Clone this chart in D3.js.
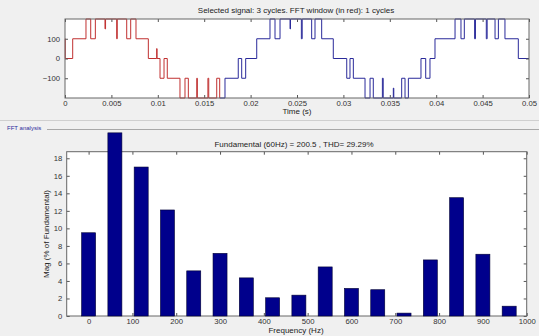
<!DOCTYPE html>
<html>
<head>
<meta charset="utf-8">
<script src="https://cdn.jsdelivr.net/npm/d3@7"></script>
<style>
  body { margin: 0; background: #f0f0f0; }
  svg { display: block; font-family: "Liberation Sans", Arial, sans-serif; }
  .tick text { font-size: 7.7px; fill: #333; }
  .tick line { stroke: #555; }
  .lbl { font-size: 8px; fill: #222; }
</style>
</head>
<body>
<svg id="chart" width="539" height="336"></svg>
<script>
// signal: step times (s) and levels (V), held until the next time
const sigTimes = [0, 0.00003, 0.00083, 0.00226, 0.00277, 0.00327, 0.00431, 0.00437, 0.00557, 0.00563,
  0.00665, 0.00708, 0.00765, 0.00898, 0.00988, 0.00992, 0.01024, 0.01067, 0.01102, 0.01239,
  0.01293, 0.01329, 0.01420, 0.01426, 0.01540, 0.01549, 0.01635, 0.01667, 0.01724, 0.01867,
  0.01904, 0.01947, 0.02066, 0.02209, 0.02263, 0.02317, 0.02425, 0.02430, 0.02547, 0.02556,
  0.02658, 0.02694, 0.02766, 0.02891, 0.03036, 0.03071, 0.03107, 0.03233, 0.03287, 0.03322,
  0.03420, 0.03429, 0.03538, 0.03543, 0.03628, 0.03664, 0.03700, 0.03836, 0.03887, 0.03933,
  0.03987, 0.04203, 0.04267, 0.04303, 0.04414, 0.04423, 0.04540, 0.04549, 0.04634, 0.04670,
  0.04741, 0.04885, 0.05];
const sigLevels = [100, 0, 100, 200, 100, 200, 150, 200, 100, 200,
  100, 200, 100, 0, 50, 0, -100, 0, -100, -200,
  -100, -200, -100, -200, -100, -200, -100, -200, -100, 0,
  -100, 0, 100, 200, 100, 200, 150, 200, 100, 200,
  100, 200, 100, 0, -100, 0, -100, -200, -100, -200,
  -100, -200, -150, -200, -100, -200, -100, 0, -100, 0,
  100, 200, 100, 200, 100, 200, 100, 200, 100, 200,
  100, 0, 0];
const fftWindowEnd = 0.01667;
const timeTicks = [0, 0.005, 0.01, 0.015, 0.02, 0.025, 0.03, 0.035, 0.04, 0.045, 0.05];
const levelTicks = [-100, 0, 100];

// FFT harmonics
const freqs = [0, 60, 120, 180, 240, 300, 360, 420, 480, 540, 600, 660, 720, 780, 840, 900, 960];
const mags = [9.5, 20.9, 17.0, 12.1, 5.15, 7.15, 4.35, 2.08, 2.38, 5.6, 3.15, 3.0, 0.33, 6.4, 13.5, 7.05, 1.12];
const freqTicks = [0, 100, 200, 300, 400, 500, 600, 700, 800, 900, 1000];
const magTicks = [0, 2, 4, 6, 8, 10, 12, 14, 16, 18];

const svg = d3.select('#chart');

// ---------- top panel: time signal ----------
const tx = d3.scaleLinear().domain([0, 0.05]).range([65, 529]);
const ty = d3.scaleLinear().domain([-200, 200]).range([98, 19]);

svg.append('rect')
    .attr('x', tx.range()[0]).attr('y', ty.range()[1])
    .attr('width', tx.range()[1] - tx.range()[0])
    .attr('height', ty.range()[0] - ty.range()[1])
    .attr('fill', '#fff');

const sig = sigTimes.map((t, i) => ({t: t, v: sigLevels[i]}));
const splitIdx = d3.bisectRight(sigTimes, fftWindowEnd);
const splitVal = sigLevels[splitIdx - 1];
const redPart = sig.slice(0, splitIdx).concat([{t: fftWindowEnd, v: splitVal}]);
const bluePart = [{t: fftWindowEnd, v: splitVal}].concat(sig.slice(splitIdx));

const sigLine = d3.line()
    .x(d => tx(d.t))
    .y(d => ty(d.v))
    .curve(d3.curveStepAfter);

svg.append('path').datum(bluePart)
    .attr('fill', 'none').attr('stroke', '#2a2a9a').attr('stroke-width', 1)
    .attr('d', sigLine);
svg.append('path').datum(redPart)
    .attr('fill', 'none').attr('stroke', '#c03030').attr('stroke-width', 1)
    .attr('d', sigLine);

svg.append('g').attr('transform', `translate(0,${ty.range()[0]})`)
    .call(d3.axisBottom(tx).tickValues(timeTicks).tickFormat(d3.format('')).tickSize(-3).tickPadding(3));
svg.append('g').attr('transform', `translate(0,${ty.range()[1]})`)
    .call(d3.axisTop(tx).tickValues(timeTicks).tickFormat('').tickSize(-3));
svg.append('g').attr('transform', `translate(${tx.range()[0]},0)`)
    .call(d3.axisLeft(ty).tickValues(levelTicks).tickSize(-3).tickPadding(5));
svg.append('g').attr('transform', `translate(${tx.range()[1]},0)`)
    .call(d3.axisRight(ty).tickValues(levelTicks).tickFormat('').tickSize(-3));

svg.append('rect')
    .attr('x', tx.range()[0]).attr('y', ty.range()[1])
    .attr('width', tx.range()[1] - tx.range()[0])
    .attr('height', ty.range()[0] - ty.range()[1])
    .attr('fill', 'none').attr('stroke', '#666');

svg.append('text').attr('class', 'lbl')
    .attr('x', 296).attr('y', 13).attr('text-anchor', 'middle')
    .text('Selected signal: 3 cycles. FFT window (in red): 1 cycles');
svg.append('text').attr('class', 'lbl')
    .attr('x', 297).attr('y', 114).attr('text-anchor', 'middle')
    .text('Time (s)');

// panel separators
svg.append('line').attr('x1', 0).attr('x2', 539).attr('y1', 120.5).attr('y2', 120.5)
    .attr('stroke', '#cfcfcf');
svg.append('line').attr('x1', 47).attr('x2', 539).attr('y1', 129.5).attr('y2', 129.5)
    .attr('stroke', '#a8a8a8');
svg.append('text')
    .attr('x', 7).attr('y', 130)
    .style('font-size', '6px').style('fill', '#2b2b9b')
    .text('FFT analysis');

// ---------- bottom panel: FFT bars ----------
const fx = d3.scaleLinear().domain([-50, 1000]).range([66.7, 526.7]);
const fy = d3.scaleLinear().domain([0, 18.75]).range([316, 151.7]);
const barW = fx(32) - fx(0);

svg.append('rect')
    .attr('x', fx.range()[0]).attr('y', fy.range()[1])
    .attr('width', fx.range()[1] - fx.range()[0])
    .attr('height', fy.range()[0] - fy.range()[1])
    .attr('fill', '#fff');

svg.append('g').attr('transform', `translate(0,${fy.range()[0]})`)
    .call(d3.axisBottom(fx).tickValues(freqTicks).tickFormat(d3.format('d')).tickSize(-3).tickPadding(3));
svg.append('g').attr('transform', `translate(0,${fy.range()[1]})`)
    .call(d3.axisTop(fx).tickValues(freqTicks).tickFormat('').tickSize(-3));
svg.append('g').attr('transform', `translate(${fx.range()[0]},0)`)
    .call(d3.axisLeft(fy).tickValues(magTicks).tickSize(-3).tickPadding(4.5));
svg.append('g').attr('transform', `translate(${fx.range()[1]},0)`)
    .call(d3.axisRight(fy).tickValues(magTicks).tickFormat('').tickSize(-3));

svg.append('rect')
    .attr('x', fx.range()[0]).attr('y', fy.range()[1])
    .attr('width', fx.range()[1] - fx.range()[0])
    .attr('height', fy.range()[0] - fy.range()[1])
    .attr('fill', 'none').attr('stroke', '#666');

svg.selectAll('.bar')
    .data(freqs.map((f, i) => ({f: f, m: mags[i]})))
    .join('rect')
    .attr('class', 'bar')
    .attr('x', d => fx(d.f) - barW / 2)
    .attr('width', barW)
    .attr('y', d => fy(d.m))
    .attr('height', d => fy(0) - fy(d.m))
    .attr('fill', '#00008c')
    .attr('stroke', '#000033').attr('stroke-width', 0.6);

svg.selectAll('.domain').remove();

svg.append('text').attr('class', 'lbl')
    .attr('x', 294).attr('y', 147).attr('text-anchor', 'middle')
    .text('Fundamental (60Hz) = 200.5 , THD= 29.29%');
svg.append('text').attr('class', 'lbl')
    .attr('x', 296).attr('y', 333).attr('text-anchor', 'middle')
    .text('Frequency (Hz)');
svg.append('text').attr('class', 'lbl')
    .attr('transform', 'translate(49,234) rotate(-90)')
    .attr('text-anchor', 'middle')
    .text('Mag (% of Fundamental)');
</script>
</body>
</html>
